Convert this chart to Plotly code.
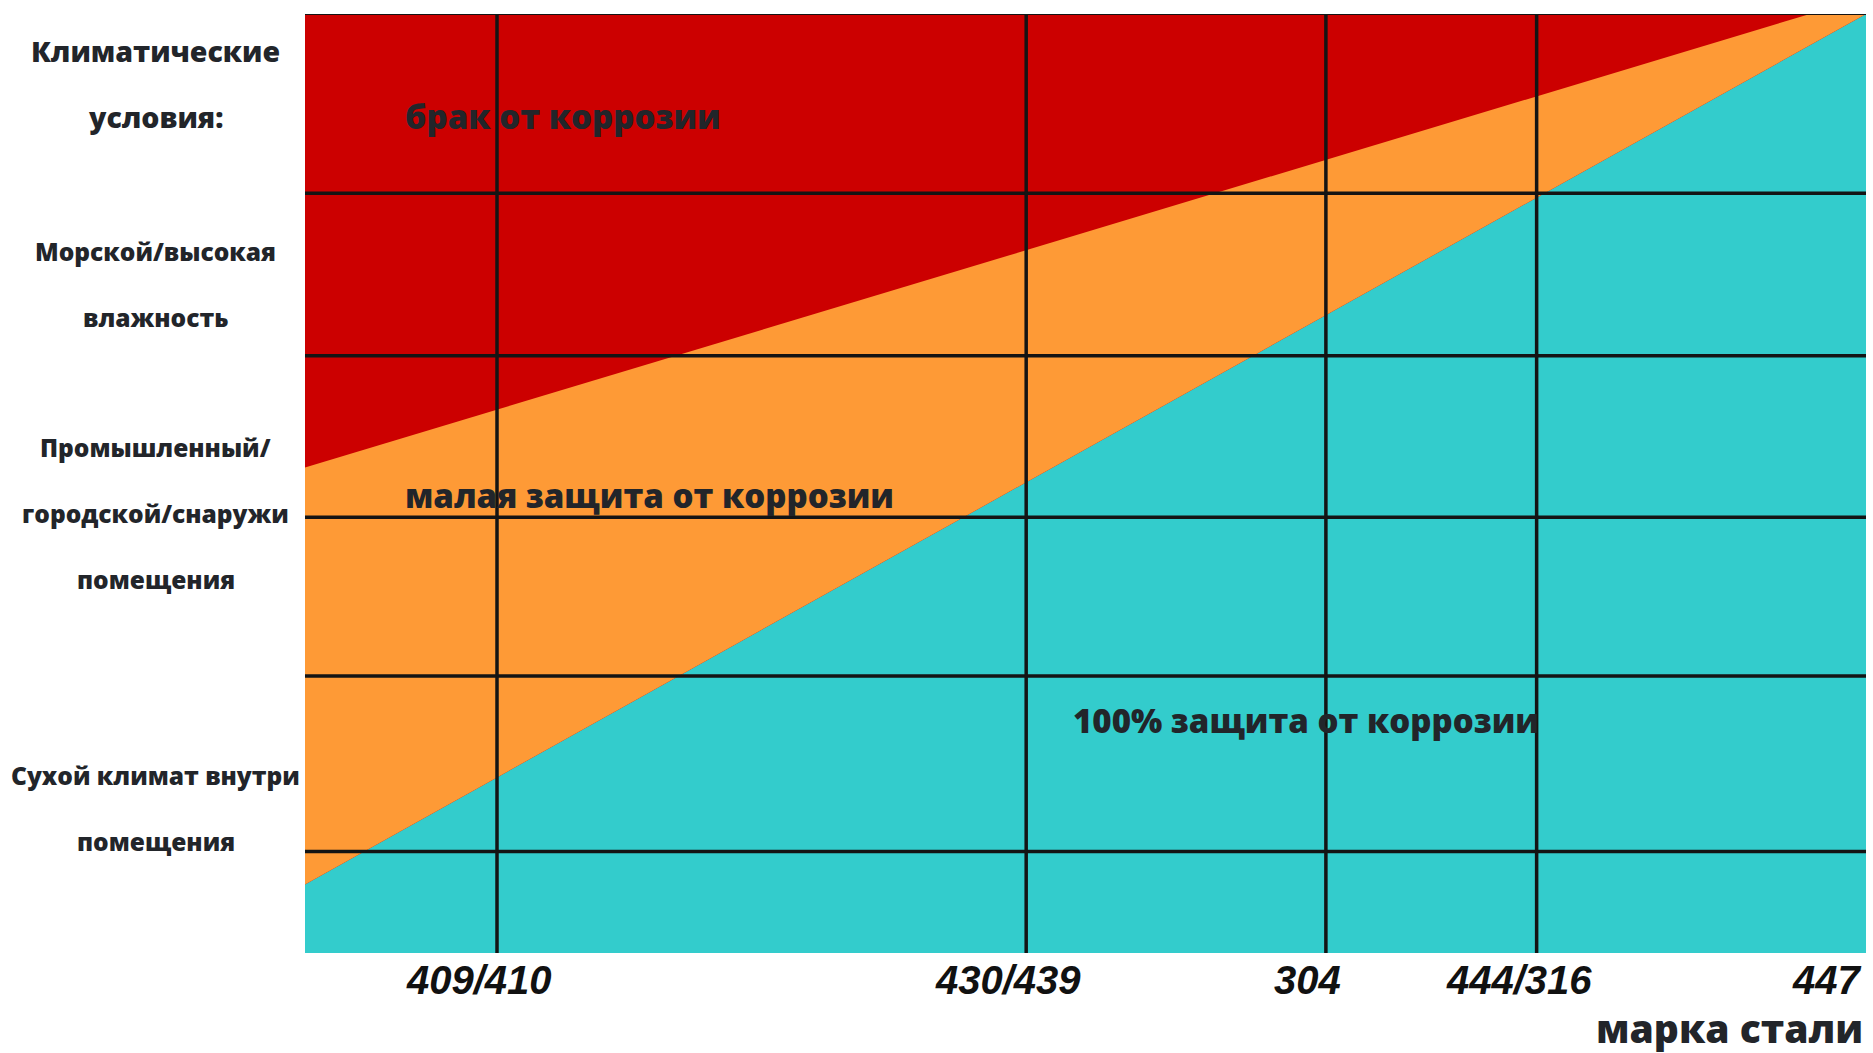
import plotly.graph_objects as go

# ---- data ----
grade_labels = ["409/410", "430/439", "304", "444/316", "447"]
grade_x = [12.3, 46.2, 65.4, 78.9, 100]

climate_lines_y = [10.8, 29.5, 46.4, 63.6, 80.9, 100]

climate_labels = [
    ["Климатические", "условия:"],
    ["Морской/высокая", "влажность"],
    ["Промышленный/", "городской/снаружи", "помещения"],
    ["Сухой климат внутри", "помещения"],
]
climate_label_y = [92.5, 71.2, 46.8, 15.4]

boundary_x = [0, 100]
full_protection_upper = [7.3, 100]
low_protection_upper = [51.7, 101.8]

zone_labels = ["брак от коррозии", "малая защита от коррозии", "100% защита от коррозии"]
zone_label_x = [6.3, 6.3, 49.1]
zone_label_y = [89.1, 48.7, 24.8]

axis_title = "марка стали"

RED = "#CC0000"
ORANGE = "#FE9A36"
TEAL = "#33CCCC"
INK = "#22252a"
LINE = "#141414"

fig = go.Figure()
fig.add_trace(go.Scatter(x=boundary_x, y=full_protection_upper, mode="lines",
                         line=dict(width=0, color=TEAL), fill="tozeroy",
                         fillcolor=TEAL, hoverinfo="skip", showlegend=False))
fig.add_trace(go.Scatter(x=boundary_x, y=low_protection_upper, mode="lines",
                         line=dict(width=0, color=ORANGE), fill="tonexty",
                         fillcolor=ORANGE, hoverinfo="skip", showlegend=False))

shapes = []
for yv in climate_lines_y:
    shapes.append(dict(type="line", xref="x", yref="y", x0=0, x1=100, y0=yv, y1=yv,
                       line=dict(color=LINE, width=2 if yv >= 100 else 3.5)))
for gx in grade_x[:-1]:
    shapes.append(dict(type="line", xref="x", yref="y", x0=gx, x1=gx, y0=0, y1=100,
                       line=dict(color=LINE, width=3.5)))

annotations = []
# zone labels
for t, zx, zy in zip(zone_labels, zone_label_x, zone_label_y):
    annotations.append(dict(text=t, x=zx, y=zy, xref="x", yref="y", xanchor="left",
                            yanchor="middle", showarrow=False,
                            font=dict(family="Open Sans", size=33, color=INK, weight=800)))
# grade tick labels
for lab, gx in zip(grade_labels, grade_x):
    last = gx == max(grade_x)
    annotations.append(dict(text=lab, x=gx, y=0, xref="x", yref="paper",
                            xanchor="right" if last else "center", yanchor="top",
                            xshift=-4 if last else -18, yshift=-4, borderpad=0,
                            showarrow=False,
                            font=dict(family="Liberation Sans, Arial, sans-serif",
                                      size=40, color="#111111", weight="bold", style="italic")))
# axis title
annotations.append(dict(text=axis_title, x=1, y=0, xref="paper", yref="paper",
                        xanchor="right", yanchor="top", yshift=-47, xshift=-2, borderpad=0,
                        showarrow=False,
                        font=dict(family="Open Sans", size=39, color=INK, weight=800)))
# climate labels
for k, (lines, cy) in enumerate(zip(climate_labels, climate_label_y)):
    n = len(lines)
    for j, ln in enumerate(lines):
        annotations.append(dict(text=ln, x=-0.0955, y=cy, xref="paper", yref="y",
                                xanchor="center", yanchor="middle",
                                yshift=((n - 1) / 2 - j) * 66, showarrow=False,
                                font=dict(family="Open Sans", size=28.5 if k == 0 else 24.5,
                                          color=INK, weight=800)))

fig.update_layout(
    width=1873, height=1053,
    margin=dict(l=305, r=7, t=14, b=100, pad=0),
    paper_bgcolor="white", plot_bgcolor=RED,
    xaxis=dict(range=[0, 100], visible=False, fixedrange=True),
    yaxis=dict(range=[0, 100], visible=False, fixedrange=True),
    shapes=shapes, annotations=annotations, showlegend=False,
)

# remove the default page margin so the 1873x1053 figure fills the window exactly
fig.write_html("out.html", config={"displayModeBar": False},
               post_script="document.body.style.margin='0';")
